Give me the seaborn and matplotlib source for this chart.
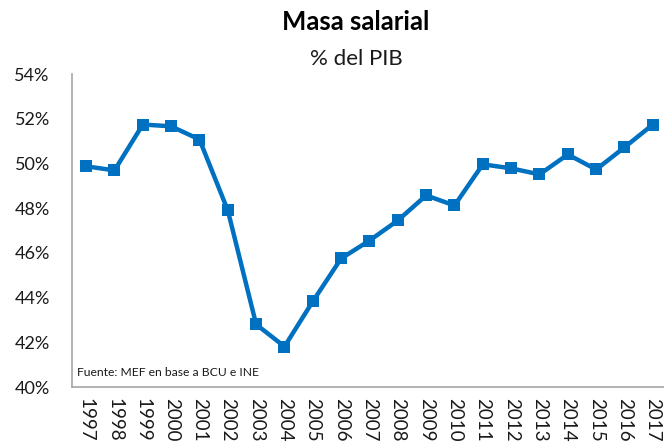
import matplotlib
matplotlib.use("Agg")
import matplotlib.pyplot as plt
import seaborn as sns
import pandas as pd
from matplotlib.ticker import FuncFormatter

years = ["1997", "1998", "1999", "2000", "2001", "2002", "2003", "2004", "2005", "2006",
         "2007", "2008", "2009", "2010", "2011", "2012", "2013", "2014", "2015", "2016", "2017"]
masa_salarial = [49.87, 49.69, 51.74, 51.66, 51.07, 47.90, 42.80, 41.81, 43.83, 45.75,
                 46.55, 47.45, 48.57, 48.12, 49.96, 49.78, 49.51, 50.40, 49.73, 50.72, 51.74]
y_ticks = [40, 42, 44, 46, 48, 50, 52, 54]

df = pd.DataFrame({"year": years, "value": masa_salarial})

sns.set_theme(style="white")
plt.rcParams["font.family"] = ["Lato", "DejaVu Sans"]

fig = plt.figure(figsize=(6.64, 4.45), dpi=100)
ax = fig.add_axes([0.1084, 0.1303, 0.8961, 0.7034])

sns.lineplot(data=df, x="year", y="value", ax=ax, color="#0070C0", linewidth=3.2,
             marker="s", markersize=8, markeredgewidth=0, sort=False)

ax.set_ylim(40, 54)
ax.set_xlim(-0.5, len(years) - 0.5)
ax.set_yticks(y_ticks)
ax.yaxis.set_major_formatter(FuncFormatter(lambda v, p: f"{v:.0f}%"))
ax.tick_params(axis="y", length=0, pad=16, labelsize=13, labelcolor="#1a1a1a")
ax.tick_params(axis="x", length=0, pad=8, labelsize=13.5, labelcolor="#1a1a1a")
plt.setp(ax.get_xticklabels(), rotation=-90, va="top", ha="center")
ax.set_xlabel("")
ax.set_ylabel("")

for s in ["top", "right"]:
    ax.spines[s].set_visible(False)
for s in ["left", "bottom"]:
    ax.spines[s].set_color("#a6a6a6")
    ax.spines[s].set_linewidth(1.2)

ax.text(0.008, 0.03, "Fuente: MEF en base a BCU e INE", transform=ax.transAxes,
        fontsize=8.7, color="#1a1a1a", ha="left", va="bottom")

fig.text(0.536, 0.950, "Masa salarial", ha="center", va="center", fontsize=18.5,
         fontweight="bold", color="#000000")
fig.text(0.536, 0.868, "% del PIB", ha="center", va="center", fontsize=16, color="#1a1a1a")

fig.savefig("out.png", dpi=100)
